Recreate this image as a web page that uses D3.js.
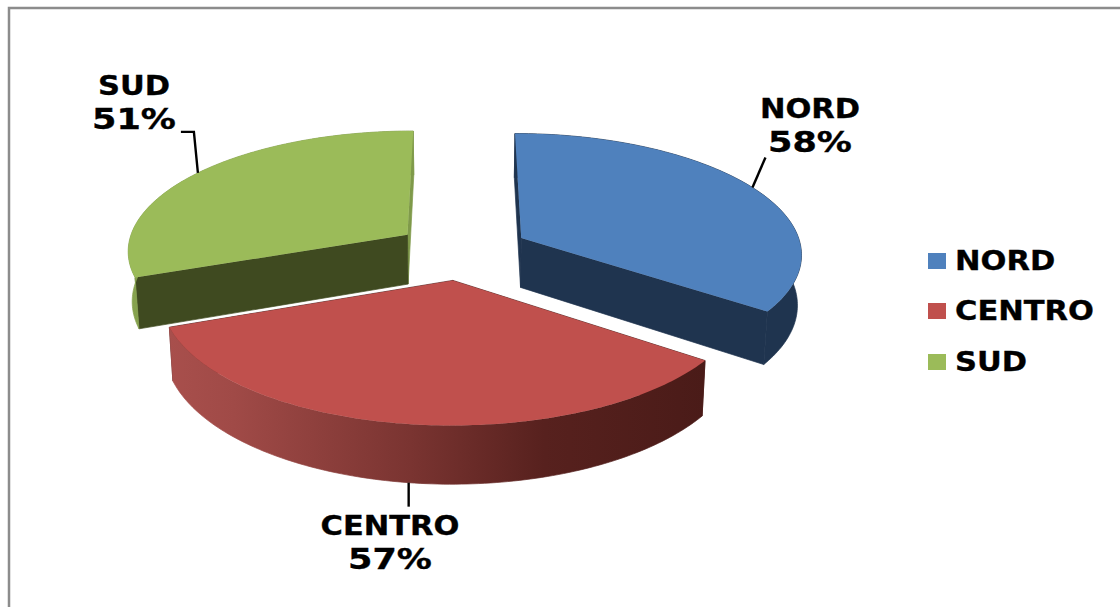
<!DOCTYPE html>
<html><head><meta charset="utf-8">
<script src="https://cdn.jsdelivr.net/npm/d3@7/dist/d3.min.js"></script>
<style>html,body{margin:0;padding:0;background:#fff}svg{display:block}
text{font-family:"DejaVu Sans",sans-serif;font-weight:700;fill:#000;stroke:#000;stroke-width:.35}</style>
</head><body><svg id="c" width="1120" height="607"></svg>
<script>
const categories = ["NORD","CENTRO","SUD"];
const values = [58,57,51];
const topColors = ["#4f81bd","#c0504d","#9bbb59"];
const startFaceColors = ["#1f344f","#4d1d1a","#3f4a20"];
const endFaceColors = ["#1f344f","#4d1d1a","#7f9a4a"];
const wallStops = [
  [["0%","#1f344f"],["100%","#1f344f"]],
  [["0%","#a84f4c"],["12%","#a04a47"],["45%","#7a3431"],["70%","#57211e"],["100%","#4a1b18"]],
  [["0%","#86a24e"],["100%","#7f9a4a"]]
];
const leaders = [[[13,-30]],[[0,24]],[[-4,-41],[-17,-41]]];
const labelPos = [{x:810,y:118},{x:390,y:535},{x:134,y:95}];
const legendY = [253,303,354];

const cx=462, cy=251, Rx=281, Ry=120, k=0.12, explode=0.24, depth=50, baseShrink=0.988, sx=1.13, sxValue=1.25;
const xs=d3.scaleLinear().domain([-1,1]).range([cx-Rx,cx+Rx]);
const ys=d3.scaleLinear().domain([-1,1]).range([cy+Ry,cy-Ry]);

function proj(X,Z,lower){
  const s=1/(1+k*Z);
  const x=xs(X*s), y=ys(Z*s)+(lower?depth*s:0);
  return [lower?cx+(x-cx)*baseShrink:x, y];
}
const svg=d3.select("#c");
const defs=svg.append("defs");
const line=d3.line().curve(d3.curveLinear);
const arcs=d3.pie().sort(null)(values);

svg.append("path").attr("d","M1120,8H9V607").attr("fill","none").attr("stroke","#8c8c8c").attr("stroke-width",2.5);

const drawOrder=[2,0,1];
const centers={};
drawOrder.forEach(i=>{
  const a=arcs[i], mid=(a.startAngle+a.endAngle)/2;
  const ox=explode*Math.sin(mid), oz=explode*Math.cos(mid);
  const pt=(t,lower)=>proj(ox+Math.sin(t),oz+Math.cos(t),lower);
  const apex=l=>proj(ox,oz,l);
  centers[i]={pt,mid};
  const ts=d3.range(0,1.0001,1/120).map(u=>a.startAngle+(a.endAngle-a.startAngle)*u);
  const g=svg.append("g");
  const upper=ts.map(t=>pt(t,false)), lowerP=ts.map(t=>pt(t,true));
  const xr=d3.extent(upper.concat(lowerP),p=>p[0]);
  const gid="w"+i;
  const lg=defs.append("linearGradient").attr("id",gid).attr("gradientUnits","userSpaceOnUse")
    .attr("x1",xr[0]).attr("x2",xr[1]).attr("y1",0).attr("y2",0);
  wallStops[i].forEach(s=>lg.append("stop").attr("offset",s[0]).attr("stop-color",s[1]));
  const seam=0.7;
  g.append("path").attr("d",line([apex(false),pt(a.endAngle,false),pt(a.endAngle,true),apex(true)])+"Z")
    .attr("fill",endFaceColors[i]).attr("stroke",endFaceColors[i]).attr("stroke-width",seam);
  g.append("path").attr("d",line([apex(false),pt(a.startAngle,false),pt(a.startAngle,true),apex(true)])+"Z")
    .attr("fill",startFaceColors[i]).attr("stroke",startFaceColors[i]).attr("stroke-width",seam);
  g.append("path").attr("d",line(upper.concat(lowerP.slice().reverse()))+"Z")
    .attr("fill",`url(#${gid})`).attr("stroke",`url(#${gid})`).attr("stroke-width",seam);
  g.append("path").attr("d",line([apex(false)].concat(upper))+"Z").attr("fill",topColors[i]);
});

categories.forEach((c,i)=>{
  const {pt,mid}=centers[i];
  const isFront=Math.cos(mid)<-0.5;
  const p0=pt(mid,isFront);
  const pts=[p0].concat(leaders[i].map(o=>[p0[0]+o[0],p0[1]+o[1]]));
  svg.append("path").attr("d",line(pts)).attr("fill","none").attr("stroke","#000").attr("stroke-width",2.4);
  const L=labelPos[i];
  svg.append("text").attr("transform",`translate(${L.x},${L.y}) scale(${sx},1)`)
    .attr("text-anchor","middle").attr("font-size",27).text(c);
  svg.append("text").attr("transform",`translate(${L.x},${L.y+34}) scale(${sxValue},1)`)
    .attr("text-anchor","middle").attr("font-size",28).text(values[i]+"%");
});

categories.forEach((c,i)=>{
  svg.append("rect").attr("x",928).attr("y",legendY[i]).attr("width",18).attr("height",16).attr("fill",topColors[i]);
  svg.append("text").attr("transform",`translate(955,${legendY[i]+17}) scale(${sx},1)`)
    .attr("font-size",27).text(c);
});
</script></body></html>
